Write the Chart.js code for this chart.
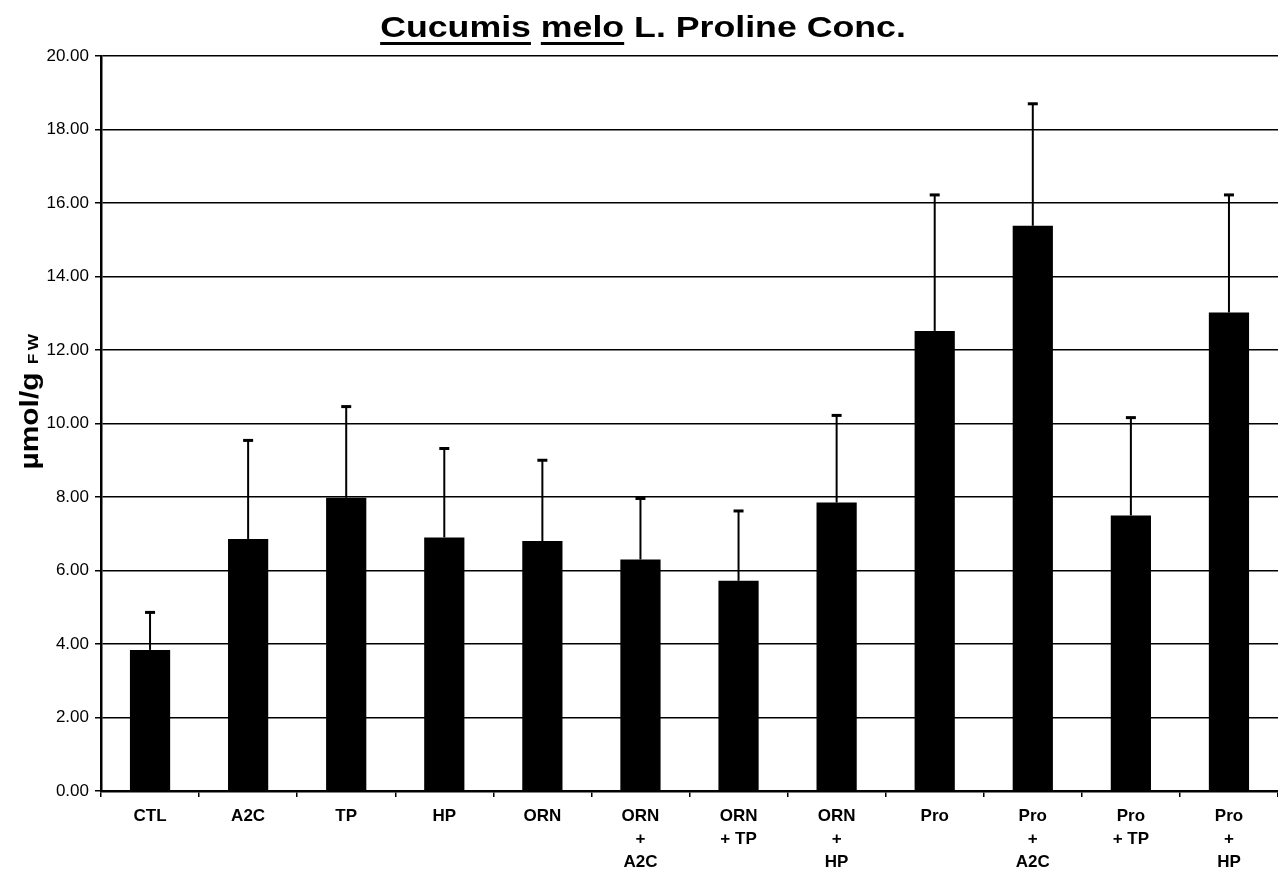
<!DOCTYPE html>
<html>
<head>
<meta charset="utf-8">
<script src="https://cdn.jsdelivr.net/npm/chart.js@4/dist/chart.umd.min.js"></script>
<style>
  html, body { margin: 0; padding: 0; background: #fff; overflow: hidden; }
  #wrap { width: 1278px; height: 870px; }
</style>
</head>
<body>
<div id="wrap"><canvas id="myChart"></canvas></div>
<script>
const categories = [
  ["CTL"], ["A2C"], ["TP"], ["HP"], ["ORN"],
  ["ORN", "+", "A2C"], ["ORN", "+ TP"], ["ORN", "+", "HP"],
  ["Pro"], ["Pro", "+", "A2C"], ["Pro", "+ TP"], ["Pro", "+", "HP"]
];
const means  = [3.84, 6.86, 7.98, 6.90, 6.80, 6.30, 5.72, 7.85, 12.52, 15.38, 7.50, 13.02];
const errors = [1.02, 2.68, 2.48, 2.42, 2.20, 1.66, 1.90, 2.37, 3.70, 3.32, 2.66, 3.20];
const yTicks = [0, 2, 4, 6, 8, 10, 12, 14, 16, 18, 20];

const FONT = "'Liberation Sans', Arial, sans-serif";

// error bars (upper only) drawn on top of the bars
const errorBars = {
  id: 'errorBars',
  afterDatasetsDraw(chart) {
    const ctx = chart.ctx;
    const y = chart.scales.y;
    const meta = chart.getDatasetMeta(0);
    ctx.save();
    ctx.strokeStyle = '#000';
    meta.data.forEach((bar, i) => {
      const top = y.getPixelForValue(means[i] + errors[i]);
      ctx.lineWidth = 2;
      ctx.beginPath();
      ctx.moveTo(bar.x, bar.y);
      ctx.lineTo(bar.x, top);
      ctx.stroke();
      ctx.lineWidth = 3;
      ctx.beginPath();
      ctx.moveTo(bar.x - 5, top);
      ctx.lineTo(bar.x + 5, top);
      ctx.stroke();
    });
    ctx.restore();
  }
};

// title with underlined genus/species, and y title with smaller "FW"
const texts = {
  id: 'texts',
  afterDraw(chart) {
    const ctx = chart.ctx;
    ctx.save();
    ctx.fillStyle = '#000';
    ctx.strokeStyle = '#000';
    ctx.textBaseline = 'alphabetic';
    ctx.textAlign = 'left';
    ctx.font = 'bold 30px ' + FONT;
    const sx = 1.19;
    const parts = [
      { t: 'Cucumis', u: true }, { t: ' ', u: false },
      { t: 'melo', u: true }, { t: ' L. Proline Conc.', u: false }
    ];
    const total = parts.reduce((s, p) => s + ctx.measureText(p.t).width, 0) * sx;
    ctx.save();
    ctx.translate(643 - total / 2, 37);
    ctx.scale(sx, 1);
    let x = 0;
    parts.forEach(p => {
      const w = ctx.measureText(p.t).width;
      ctx.fillText(p.t, x, 0);
      if (p.u) {
        ctx.fillRect(x, 5, w, 3);
      }
      x += w;
    });
    ctx.restore();

    ctx.translate(38, 400);
    ctx.rotate(-Math.PI / 2);
    ctx.scale(1.15, 1);
    const big = 'bold 26px ' + FONT, small = 'bold 15px ' + FONT;
    ctx.font = big;
    const w1 = ctx.measureText('\u00b5mol/g ').width;
    ctx.font = small;
    ctx.letterSpacing = '3px';
    const w2 = ctx.measureText('FW').width;
    const x0 = -(w1 + w2) / 2;
    ctx.fillText('FW', x0 + w1, 0);
    ctx.letterSpacing = '0px';
    ctx.font = big;
    ctx.fillText('\u00b5mol/g ', x0, 0);
    ctx.restore();
  }
};

const ctx = document.getElementById('myChart');
const myChart = new Chart(ctx, {
  type: 'bar',
  data: {
    labels: categories,
    datasets: [{
      data: means,
      backgroundColor: '#000',
      borderWidth: 0,
      barPercentage: 0.41,
      categoryPercentage: 1.0
    }]
  },
  options: {
    responsive: true,
    maintainAspectRatio: false,
    animation: false,
    layout: { padding: { top: 56, right: 0, bottom: 0, left: 0 } },
    plugins: {
      legend: { display: false },
      tooltip: { enabled: false },
      title: { display: false }
    },
    scales: {
      x: {
        offset: true,
        grid: {
          offset: true,
          drawOnChartArea: false,
          drawTicks: true,
          tickLength: 6,
          color: '#000',
          lineWidth: 1.5
        },
        border: { color: '#000', width: 2.5 },
        ticks: {
          color: '#000',
          font: { family: FONT, size: 17, weight: 'bold', lineHeight: 1.35 },
          padding: 8,
          maxRotation: 0,
          autoSkip: false
        },
        afterFit: (s) => { s.height = 79; }
      },
      y: {
        min: 0,
        max: 20,
        afterBuildTicks: (s) => { s.ticks = yTicks.map(v => ({ value: v })); },
        grid: {
          color: '#000',
          lineWidth: 1.5,
          tickLength: 6
        },
        border: { color: '#000', width: 2.5 },
        ticks: {
          color: '#000',
          font: { family: FONT, size: 17 },
          padding: 6,
          callback: (v) => Number(v).toFixed(2)
        },
        afterFit: (s) => { s.width = 101; }
      }
    }
  },
  plugins: [errorBars, texts]
});
</script>
</body>
</html>
